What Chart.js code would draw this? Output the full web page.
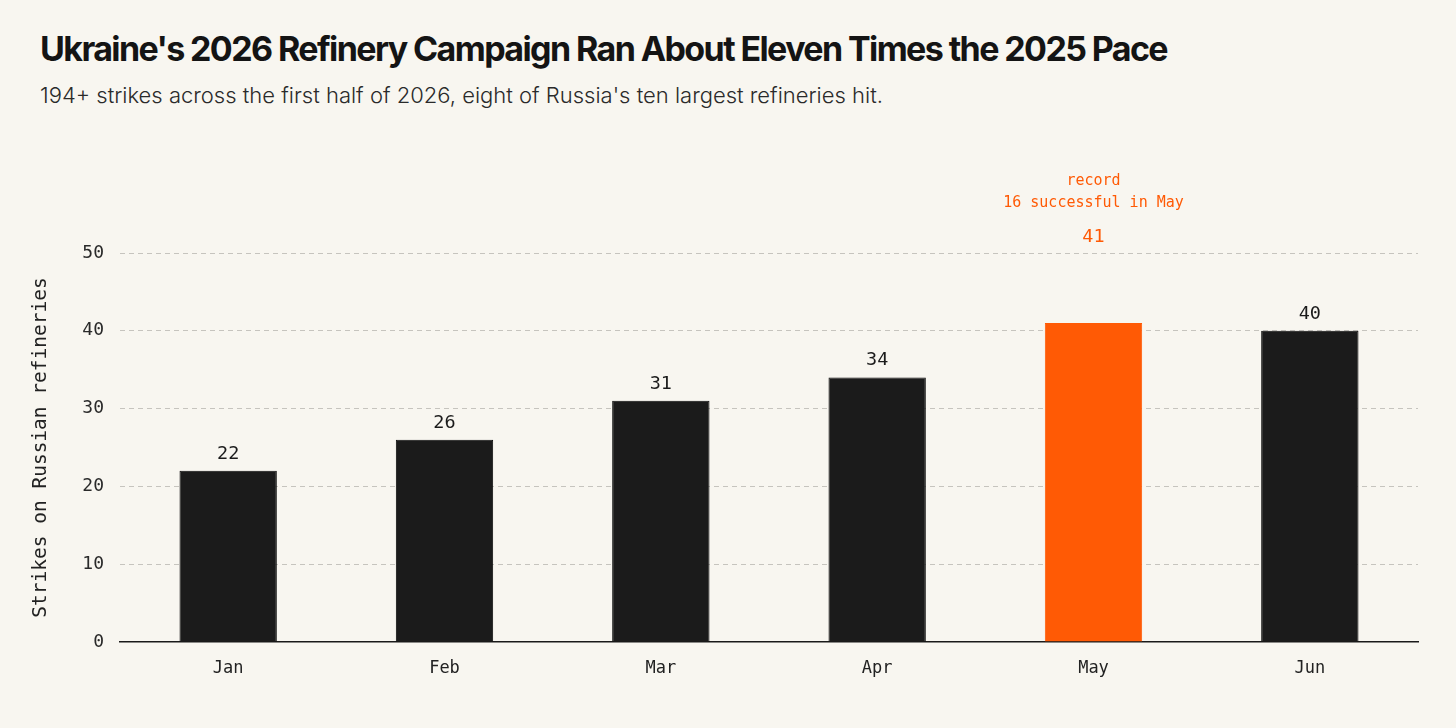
<!DOCTYPE html>
<html>
<head>
<meta charset="utf-8">
<script src="https://cdn.jsdelivr.net/npm/chart.js@4.4.1/dist/chart.umd.min.js"></script>
<style>
  html, body { margin: 0; padding: 0; background: #f8f6f0; }
  body { width: 1456px; height: 728px; position: relative; overflow: hidden; }
  #title {
    position: absolute; left: 40px; top: 28px; margin: 0;
    font-family: Inter, sans-serif; font-weight: 700; font-size: 34px;
    letter-spacing: -1.6px; color: #141414; white-space: nowrap;
  }
  #subtitle {
    position: absolute; left: 40px; top: 82px; margin: 0;
    font-family: Inter, sans-serif; font-weight: 300; font-size: 22px;
    color: #2a2a2a; white-space: nowrap;
  }
  #wrap { position: absolute; left: 0; top: 0; width: 1456px; height: 728px; }
</style>
</head>
<body>
<h1 id="title">Ukraine's 2026 Refinery Campaign Ran About Eleven Times the 2025 Pace</h1>
<p id="subtitle">194+ strikes across the first half of 2026, eight of Russia's ten largest refineries hit.</p>
<div id="wrap"><canvas id="strikesChart" width="1456" height="728"></canvas></div>
<script>
const months = ['Jan', 'Feb', 'Mar', 'Apr', 'May', 'Jun']
const strikes = [22, 26, 31, 34, 41, 40]
const yTicks = [0, 10, 20, 30, 40, 50]
const recordMonth = 'May'
const recordNote = ['record', '16 successful in May']

const MONO = '"DejaVu Sans Mono", "Liberation Mono", monospace'
const INK = '#1b1b1b'
const ORANGE = '#ff5a05'

const barColors = months.map(m => m === recordMonth ? ORANGE : INK)
const barBorders = months.map(m => m === recordMonth ? ORANGE : '#0a0a0a')

// value labels above the bars, plus the note over the record month
const valueLabels = {
    id: 'valueLabels',
    afterDatasetsDraw(chart) {
        const ctx = chart.ctx
        const meta = chart.getDatasetMeta(0)
        const top = chart.chartArea.top
        ctx.save()
        ctx.textAlign = 'center'
        ctx.textBaseline = 'middle'
        meta.data.forEach((bar, i) => {
            if (months[i] === recordMonth) {
                ctx.fillStyle = ORANGE
                ctx.font = '18.5px ' + MONO
                ctx.fillText(String(strikes[i]), bar.x, top - 16)
                ctx.font = '15px ' + MONO
                ctx.fillText(recordNote[0], bar.x, top - 72)
                ctx.fillText(recordNote[1], bar.x, top - 50)
            } else {
                ctx.fillStyle = INK
                ctx.font = '18.5px ' + MONO
                ctx.fillText(String(strikes[i]), bar.x, bar.y - 17)
            }
        })
        ctx.restore()
    }
}

const ctx = document.getElementById('strikesChart').getContext('2d')
const strikesChart = new Chart(ctx, {
    type: 'bar',
    data: {
        labels: months,
        datasets: [{
            label: 'Strikes on Russian refineries',
            data: strikes,
            backgroundColor: barColors,
            borderColor: barBorders,
            borderWidth: 1,
            barPercentage: 0.9,
            categoryPercentage: 0.5
        }]
    },
    options: {
        responsive: false,
        animation: false,
        devicePixelRatio: 1,
        layout: { padding: { top: 253, left: 20, right: 38, bottom: 0 } },
        plugins: {
            legend: { display: false },
            tooltip: { enabled: false }
        },
        scales: {
            x: {
                grid: { display: false, drawTicks: false },
                border: { display: true, color: '#1a1a1a', width: 1.5 },
                ticks: { color: '#222', font: { family: MONO, size: 17 }, padding: 16 },
                afterFit(scale) { scale.height = 86 }
            },
            y: {
                min: 0,
                max: 50,
                afterBuildTicks(scale) { scale.ticks = yTicks.map(v => ({ value: v })) },
                grid: {
                    drawTicks: false,
                    color: c => c.tick && c.tick.value === 0 ? 'rgba(0,0,0,0)' : '#c6c4be',
                    lineWidth: 1
                },
                border: { display: false, dash: [5, 4] },
                ticks: { color: '#2a2a2a', font: { family: MONO, size: 18 }, padding: 16 },
                title: {
                    display: true,
                    text: 'Strikes on Russian refineries',
                    color: '#222',
                    font: { family: MONO, size: 19.5 },
                    padding: { top: 9, bottom: 0 }
                },
                afterFit(scale) { scale.width = 100 }
            }
        }
    },
    plugins: [valueLabels]
})
</script>
</body>
</html>
